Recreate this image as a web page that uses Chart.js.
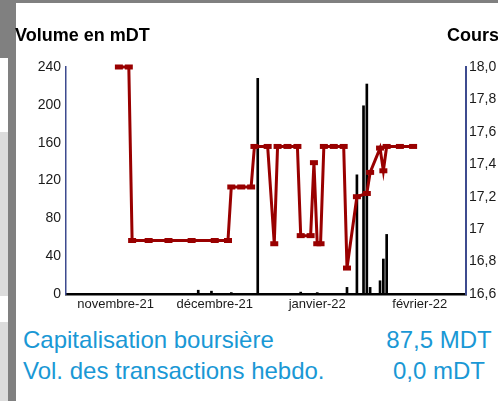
<!DOCTYPE html>
<html lang="fr">
<head>
<meta charset="utf-8">
<script src="https://cdn.jsdelivr.net/npm/chart.js@4.4.1/dist/chart.umd.min.js"></script>
<style>
  body { margin: 0; width: 498px; height: 401px; overflow: hidden; background: #fff; position: relative;
         font-family: "Liberation Sans", Arial, sans-serif; }
  .bande { position: absolute; background: #808080; }
  .panneau { position: absolute; background: #dcdcdc; left: 0; width: 8px; }
  #graph { position: absolute; left: 16px; top: 4px; }
  .titre { position: absolute; top: 25px; font-weight: bold; font-size: 18px; line-height: 20px; color: #000; white-space: nowrap; }
  .infos { position: absolute; top: 324px; font-size: 24px; line-height: 31px; color: #1a98d5; white-space: nowrap; }
</style>
</head>
<body>
<div class="bande" style="left:0;top:0;width:498px;height:3px"></div>
<div class="bande" style="left:0;top:0;width:16px;height:58px"></div>
<div class="bande" style="left:8px;top:0;width:8px;height:401px"></div>
<div class="panneau" style="top:132px;height:164px"></div>
<div class="panneau" style="top:322px;height:79px"></div>

<canvas id="graph" width="482" height="316"></canvas>

<div class="titre" style="left:15px">Volume en mDT</div>
<div class="titre" style="left:447px">Cours</div>
<div class="infos" style="left:23px">Capitalisation boursière<br>Vol. des transactions hebdo.</div>
<div class="infos" style="left:379px;width:120px;text-align:center">87,5 MDT<br>0,0 mDT</div>

<script>
// volume échangé (mDT), axe de gauche
const volumeDates = ['2021-11-26', '2021-11-30', '2021-12-06', '2021-12-14', '2021-12-27', '2022-01-01',
  '2022-01-10', '2022-01-13', '2022-01-15', '2022-01-16', '2022-01-17', '2022-01-20', '2022-01-21', '2022-01-22'];
const volumeValeurs = [4, 3, 1.5, 228, 2, 1.5, 7, 126, 199, 222, 7, 14, 37, 63];

// cours, axe de droite
const coursDates = ['2021-11-02', '2021-11-05', '2021-11-06', '2021-11-11', '2021-11-17', '2021-11-24',
  '2021-12-01', '2021-12-05', '2021-12-06', '2021-12-09', '2021-12-12', '2021-12-13', '2021-12-17',
  '2021-12-19', '2021-12-20', '2021-12-23', '2021-12-26', '2021-12-27', '2021-12-30', '2021-12-31',
  '2022-01-01', '2022-01-02', '2022-01-03', '2022-01-06', '2022-01-09', '2022-01-10', '2022-01-13',
  '2022-01-16', '2022-01-17', '2022-01-20', '2022-01-21', '2022-01-22', '2022-01-26', '2022-01-30'];
const coursValeurs = [18.0, 18.0, 16.93, 16.93, 16.93, 16.93,
  16.93, 16.93, 17.26, 17.26, 17.26, 17.51, 17.51,
  16.91, 17.51, 17.51, 17.51, 16.96, 16.96, 17.41,
  16.91, 16.91, 17.51, 17.51, 17.51, 16.76, 17.20,
  17.22, 17.35, 17.50, 17.36, 17.51, 17.51, 17.51];

const moisDates = ['2021-11-01', '2021-12-01', '2022-01-01', '2022-02-01'];
const moisLabels = ['novembre-21', 'décembre-21', 'janvier-22', 'février-22'];
const volumeTicks = [0, 40, 80, 120, 160, 200, 240];
const coursTicks = [16.6, 16.8, 17, 17.2, 17.4, 17.6, 17.8, 18];
const coursTickLabels = ['16,6', '16,8', '17', '17,2', '17,4', '17,6', '17,8', '18,0'];

// jours depuis le 1er novembre 2021
const jour = d => (Date.parse(d) - Date.parse('2021-11-01')) / 864e5;

const police = { family: '"Liberation Sans", Arial, sans-serif', size: 14 };
const couleurAxe = '#3d4b8f';

new Chart(document.getElementById('graph'), {
  type: 'bar',
  data: {
    datasets: [
      {
        type: 'line',
        data: coursDates.map((d, i) => ({ x: jour(d), y: coursValeurs[i] })),
        yAxisID: 'y1',
        borderColor: '#990000',
        borderWidth: 3,
        tension: 0,
        pointStyle: 'line',
        pointRadius: 4,
        pointBorderWidth: 5,
        pointBorderColor: '#990000',
        pointBackgroundColor: '#990000',
        clip: false,
        order: 0
      },
      {
        type: 'bar',
        data: volumeDates.map((d, i) => ({ x: jour(d), y: volumeValeurs[i] })),
        yAxisID: 'y',
        backgroundColor: '#000',
        barThickness: 2,
        order: 1
      }
    ]
  },
  options: {
    responsive: false,
    devicePixelRatio: 1,
    animation: false,
    layout: { padding: { top: 63, left: 0, right: 0, bottom: 0 } },
    plugins: { legend: { display: false }, tooltip: { enabled: false } },
    scales: {
      x: {
        type: 'linear',
        offset: false,
        min: jour('2021-10-17'),
        max: jour('2022-02-15'),
        grid: { display: false, drawTicks: false },
        border: { display: true, color: '#000', width: 2.5 },
        ticks: {
          autoSkip: false, maxRotation: 0, padding: 3, color: '#1a1a1a',
          font: { ...police, size: 13 },
          callback: (v, i) => moisLabels[i]
        },
        afterBuildTicks: s => { s.ticks = moisDates.map(d => ({ value: jour(d) })); },
        afterFit: s => { s.height = 26; }
      },
      y: {
        position: 'left',
        min: 0,
        max: 240,
        grid: { display: false, drawTicks: false },
        border: { display: true, color: couleurAxe, width: 1.5 },
        ticks: { padding: 5, color: '#1a1a1a', font: police },
        afterBuildTicks: s => { s.ticks = volumeTicks.map(v => ({ value: v })); },
        afterFit: s => { s.width = 50; }
      },
      y1: {
        position: 'right',
        min: 16.6,
        max: 18,
        grid: { display: false, drawTicks: false },
        border: { display: true, color: couleurAxe, width: 2 },
        ticks: { padding: 3, color: '#1a1a1a', font: police, callback: (v, i) => coursTickLabels[i] },
        afterBuildTicks: s => { s.ticks = coursTicks.map(v => ({ value: v })); },
        afterFit: s => { s.width = 32; }
      }
    }
  }
});
</script>
</body>
</html>
